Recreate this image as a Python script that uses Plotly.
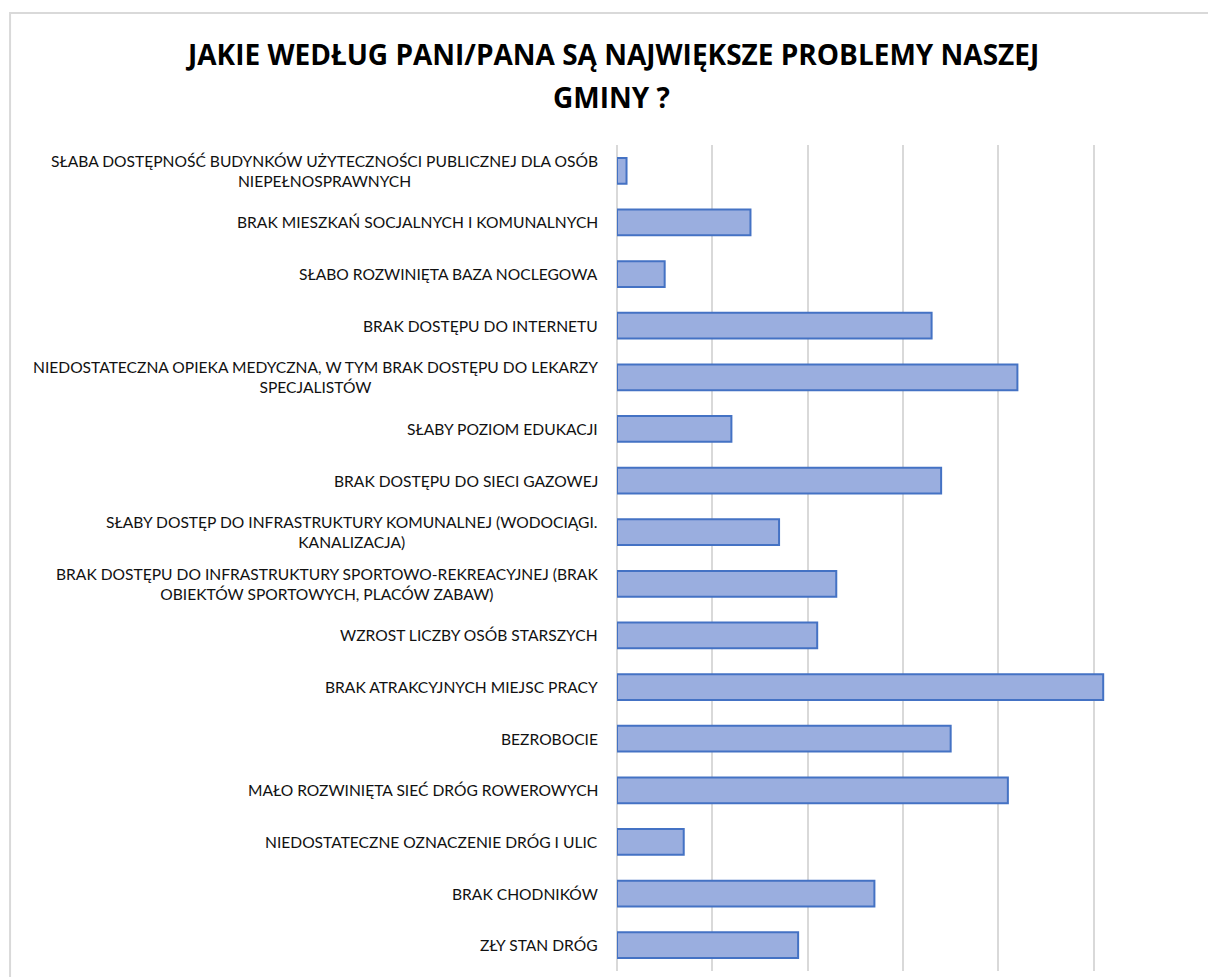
import plotly.graph_objects as go

# Survey: biggest problems of the municipality (top to bottom)
categories = [
    "SŁABA DOSTĘPNOŚĆ BUDYNKÓW UŻYTECZNOŚCI PUBLICZNEJ DLA OSÓB<br>NIEPEŁNOSPRAWNYCH",
    "BRAK MIESZKAŃ SOCJALNYCH I KOMUNALNYCH",
    "SŁABO ROZWINIĘTA BAZA NOCLEGOWA",
    "BRAK DOSTĘPU DO INTERNETU",
    "NIEDOSTATECZNA OPIEKA MEDYCZNA, W TYM BRAK DOSTĘPU DO LEKARZY<br>SPECJALISTÓW",
    "SŁABY POZIOM EDUKACJI",
    "BRAK DOSTĘPU DO SIECI GAZOWEJ",
    "SŁABY DOSTĘP DO INFRASTRUKTURY KOMUNALNEJ (WODOCIĄGI.<br>KANALIZACJA)",
    "BRAK DOSTĘPU DO INFRASTRUKTURY SPORTOWO-REKREACYJNEJ (BRAK<br>OBIEKTÓW SPORTOWYCH, PLACÓW ZABAW)",
    "WZROST LICZBY OSÓB STARSZYCH",
    "BRAK ATRAKCYJNYCH MIEJSC PRACY",
    "BEZROBOCIE",
    "MAŁO ROZWINIĘTA SIEĆ DRÓG ROWEROWYCH",
    "NIEDOSTATECZNE OZNACZENIE DRÓG I ULIC",
    "BRAK CHODNIKÓW",
    "ZŁY STAN DRÓG",
]
values = [1, 14, 5, 33, 42, 12, 34, 17, 23, 21, 51, 35, 41, 7, 27, 19]

title_lines = ["JAKIE WEDŁUG PANI/PANA SĄ NAJWIĘKSZE PROBLEMY NASZEJ", "GMINY ?"]

W, H = 1208, 977
L, R, T, B = 616.5, 18.5, 145, 6
pw, ph = W - L - R, H - T - B

fig = go.Figure(
    go.Bar(
        x=values,
        y=categories,
        orientation="h",
        marker=dict(color="#9aaedf", line=dict(color="#4472c4", width=2)),
        hoverinfo="x+y",
    )
)

# Category labels, centred line by line, to the left of the plot
for cat in categories:
    fig.add_annotation(
        x=0, y=cat, xref="x", yref="y",
        text=cat, showarrow=False,
        xanchor="right", yanchor="middle", align="center",
        xshift=-17,
        font=dict(family="Lato", size=15.6, color="#111111"),
    )

# Two-line bold heading
for line, py in zip(title_lines, [54, 97]):
    fig.add_annotation(
        x=(611 - L) / pw, y=(H - B - py) / ph, xref="paper", yref="paper",
        text=f"<b>{line}</b>", showarrow=False,
        xanchor="center", yanchor="middle",
        font=dict(family="Open Sans", size=28, color="#000000"),
    )

# Light chart-area frame
fig.add_shape(
    type="rect", xref="paper", yref="paper",
    x0=(8.5 - L) / pw, x1=(W + 5 - L) / pw,
    y0=(H - B - (H + 5)) / ph, y1=(H - B - 13) / ph,
    line=dict(color="#d9d9d9", width=2), fillcolor="rgba(0,0,0,0)",
    layer="below",
)

fig.update_layout(
    width=W, height=H,
    margin=dict(l=L, r=R, t=T, b=B),
    paper_bgcolor="white", plot_bgcolor="white",
    showlegend=False,
    bargap=0.5,
    xaxis=dict(
        range=[0, 60], dtick=10, showticklabels=False,
        showgrid=True, gridcolor="#d9d9d9", gridwidth=1.5,
        zeroline=True, zerolinecolor="#d9d9d9", zerolinewidth=1.5,
        showline=False, fixedrange=True,
    ),
    yaxis=dict(
        autorange="reversed", showticklabels=False,
        showgrid=False, zeroline=False, showline=False, fixedrange=True,
    ),
)

fig.write_html("out.html")
